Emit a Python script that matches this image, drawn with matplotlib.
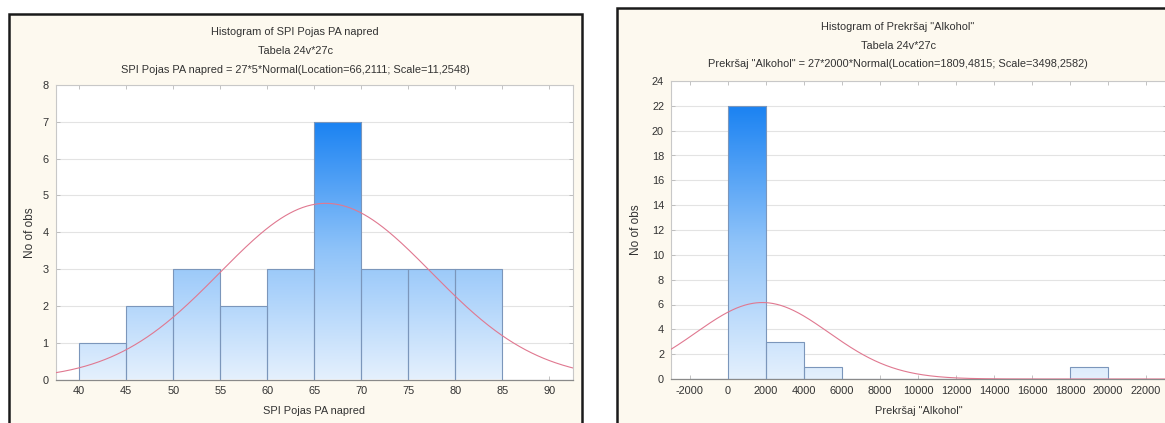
import numpy as np
import matplotlib
matplotlib.use("Agg")
import matplotlib.pyplot as plt
from matplotlib.patches import Rectangle
from matplotlib.colors import LinearSegmentedColormap

plt.rcParams['font.family'] = ['Liberation Sans', 'DejaVu Sans']
plt.rcParams['axes.unicode_minus'] = False

# ---------------- data ----------------
spi_bin_left = [40, 45, 50, 55, 60, 65, 70, 75, 80]
spi_counts = [1, 2, 3, 2, 3, 7, 3, 3, 3]
spi_bin_width = 5
spi_loc, spi_scale, spi_n = 66.2111, 11.2548, 27
spi_xticks = [40, 45, 50, 55, 60, 65, 70, 75, 80, 85, 90]
spi_yticks = [0, 1, 2, 3, 4, 5, 6, 7, 8]

alk_bin_left = [-2000, 0, 2000, 4000, 6000, 8000, 10000, 12000, 14000, 16000, 18000, 20000]
alk_counts = [0, 22, 3, 1, 0, 0, 0, 0, 0, 0, 1, 0]
alk_bin_width = 2000
alk_loc, alk_scale, alk_n = 1809.4815, 3498.2582, 27
alk_xticks = [-2000, 0, 2000, 4000, 6000, 8000, 10000, 12000, 14000, 16000, 18000, 20000, 22000]
alk_yticks = [0, 2, 4, 6, 8, 10, 12, 14, 16, 18, 20, 22, 24]

titles_left = ["Histogram of SPI Pojas PA napred", "Tabela 24v*27c",
               "SPI Pojas PA napred = 27*5*Normal(Location=66,2111; Scale=11,2548)"]
titles_right = ['Histogram of Prekršaj "Alkohol"', "Tabela 24v*27c",
                'Prekršaj "Alkohol" = 27*2000*Normal(Location=1809,4815; Scale=3498,2582)']
xlabel_left = "SPI Pojas PA napred"
xlabel_right = 'Prekršaj "Alkohol"'
ylabel = "No of obs"

# ---------------- figure ----------------
W, H = 1165, 423
fig = plt.figure(figsize=(W / 100, H / 100), dpi=100)
fig.patch.set_facecolor('white')

cream = '#fdf9ef'
def px(x0, y0, x1, y1):
    return (x0 / W, 1 - y1 / H, (x1 - x0) / W, (y1 - y0) / H)

# panel frames
for (x0, y0, x1, y1) in [(9, 14, 582, 440), (617, 8, 1190, 440)]:
    l, b, w, h = px(x0, y0, x1, y1)
    fig.patches.append(Rectangle((l, b), w, h, transform=fig.transFigure,
                                 facecolor=cream, edgecolor='#1a1a1a', lw=1.8, zorder=-5))

cmap = LinearSegmentedColormap.from_list('g', ['#e4f0fd', '#8fc3f9', '#1a82f2'])
txtc = '#333333'
fs = 7.9

def draw(ax, lefts, counts, width, loc, scale, n, xlim, ylim, xticks, yticks, xlabel, ypad):
    ax.set_facecolor('white')
    ax.set_xlim(*xlim)
    ax.set_ylim(*ylim)
    ax.set_xticks(xticks)
    ax.set_yticks(yticks)
    ax.yaxis.grid(True, color='#e3e3e3', lw=0.8)
    ax.set_axisbelow(True)
    maxh = max(counts)
    bars = ax.bar(lefts, counts, width=width, align='edge', facecolor='none',
                  edgecolor='#7b96bb', lw=0.8, zorder=3)
    grad = np.linspace(0, 1, 256).reshape(-1, 1)
    for r in bars:
        if r.get_height() <= 0:
            continue
        im = ax.imshow(grad, extent=(r.get_x(), r.get_x() + r.get_width(), 0, maxh),
                       origin='lower', aspect='auto', cmap=cmap, zorder=2,
                       interpolation='bilinear')
        im.set_clip_path(r)
    xs = np.linspace(xlim[0], xlim[1], 600)
    ys = n * width * np.exp(-0.5 * ((xs - loc) / scale) ** 2) / (scale * np.sqrt(2 * np.pi))
    ax.plot(xs, ys, color='#e07890', lw=0.8, zorder=4)
    ax.set_xlim(*xlim)
    ax.set_ylim(*ylim)
    for s in ['top', 'right', 'left']:
        ax.spines[s].set_color('#c8c8c8')
        ax.spines[s].set_linewidth(0.8)
    ax.spines['bottom'].set_color('#8a8a8a')
    ax.spines['bottom'].set_linewidth(0.9)
    ax.tick_params(axis='both', which='both', direction='in', length=3, width=0.6,
                   color='#b8b8b8', labelsize=fs, labelcolor=txtc, top=True, right=True,
                   pad=5)
    ax.set_xlabel(xlabel, fontsize=fs, color=txtc, labelpad=7)
    ax.set_ylabel(ylabel, fontsize=fs + 0.6, color=txtc, labelpad=ypad)
    return ax

axL = fig.add_axes(px(55.7, 85, 573, 379.5))
draw(axL, spi_bin_left, spi_counts, spi_bin_width, spi_loc, spi_scale, spi_n,
     (37.5, 92.5), (0, 8), spi_xticks, spi_yticks, xlabel_left, 5)
axR = fig.add_axes(px(671, 81, 1167, 379))
draw(axR, alk_bin_left, alk_counts, alk_bin_width, alk_loc, alk_scale, alk_n,
     (-3000, 23100), (0, 24), alk_xticks, alk_yticks, xlabel_right, 7)

for cx, ys, tl in [(295, (32, 51, 70), titles_left), (898, (27, 46, 64), titles_right)]:
    for y, t in zip(ys, tl):
        fig.text(cx / W, 1 - y / H, t, ha='center', va='center', fontsize=fs, color=txtc)

fig.savefig('out.png', dpi=100, facecolor='white')
